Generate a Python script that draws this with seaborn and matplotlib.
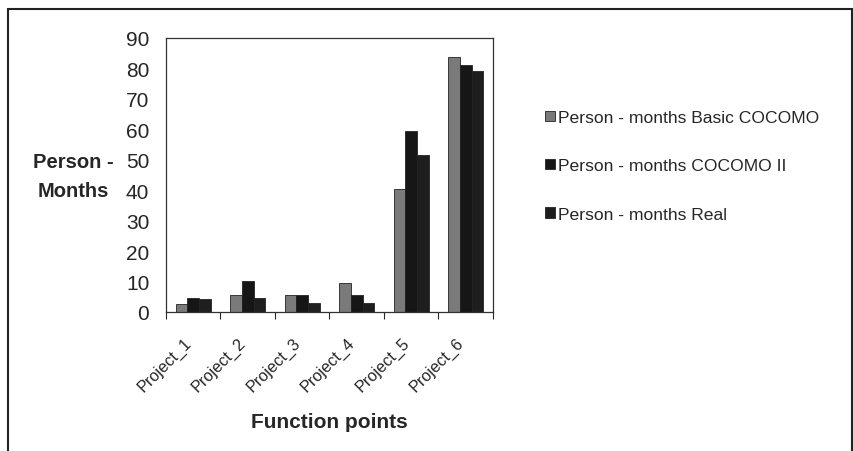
import matplotlib
matplotlib.use("Agg")
import matplotlib.pyplot as plt
import matplotlib.transforms as mtransforms
import seaborn as sns
import pandas as pd
from matplotlib.patches import Rectangle

projects = ["Project_1", "Project_2", "Project_3", "Project_4", "Project_5", "Project_6"]
series_names = ["Person - months Basic COCOMO", "Person - months COCOMO II", "Person - months Real"]
basic_cocomo = [2.5, 5.6, 5.6, 9.4, 40.5, 83.6]
cocomo_ii = [4.7, 10.2, 5.6, 5.6, 59.4, 81.0]
real = [4.2, 4.7, 2.8, 2.8, 51.7, 79.3]
y_ticks = [0, 10, 20, 30, 40, 50, 60, 70, 80, 90]

rows = []
for name, vals in zip(series_names, [basic_cocomo, cocomo_ii, real]):
    for p, v in zip(projects, vals):
        rows.append({"project": p, "series": name, "value": v})
df = pd.DataFrame(rows)

sns.set_style("white")
plt.rcParams["font.family"] = ["Liberation Sans", "DejaVu Sans"]

fig = plt.figure(figsize=(8.54, 4.52), dpi=100)
ax = fig.add_axes([166 / 854, 1 - 313 / 452, (493 - 166) / 854, (313 - 39) / 452])

palette = {series_names[0]: "#7a7a7a", series_names[1]: "#161616", series_names[2]: "#1e1e1e"}
sns.barplot(data=df, x="project", y="value", hue="series", palette=palette,
            width=0.64, gap=0, edgecolor="#222222", linewidth=0.6,
            saturation=1, ax=ax, legend=True)

ax.set_ylim(0, 90)
ax.set_xlim(-0.5, 5.5)
ax.set_yticks(y_ticks)
ax.tick_params(axis="y", labelsize=15, length=0, pad=12)
ax.set_xticks(range(len(projects)))
ax.set_xticklabels(projects, rotation=45, ha="right", rotation_mode="anchor", fontsize=11.7)
ax.tick_params(axis="x", length=0, pad=16)
offset = mtransforms.ScaledTranslation(-10 / 100, 0, fig.dpi_scale_trans)
for lbl in ax.get_xticklabels():
    lbl.set_transform(lbl.get_transform() + offset)
ax.set_xticks([i + 0.5 for i in range(-1, 6)], minor=True)
ax.tick_params(axis="x", which="minor", length=5, direction="out", width=0.8, bottom=True)

for s in ax.spines.values():
    s.set_color("#333333")
    s.set_linewidth(0.9)

ax.set_xlabel("Function points", fontsize=15, fontweight="bold", labelpad=13)
ax.set_ylabel("")
fig.text(73 / 854, 1 - 177 / 452, "Person -\nMonths", fontsize=14.5, fontweight="bold",
         ha="center", va="center", linespacing=1.72)

handles, labels = ax.get_legend_handles_labels()
ax.legend(handles, labels, loc="upper left", bbox_to_anchor=(545 / 854, 1 - 111 / 452),
          bbox_transform=fig.transFigure, frameon=False, fontsize=12.6,
          handlelength=0.55, handleheight=0.55, handletextpad=0.2,
          labelspacing=1.9, borderaxespad=0, borderpad=0)

fig.patches.append(Rectangle((8 / 854, -0.05), (852 - 8) / 854, 1.05 - 10 / 452,
                             transform=fig.transFigure, fill=False,
                             edgecolor="#222222", linewidth=1.5))

fig.savefig("out.png", dpi=100)
